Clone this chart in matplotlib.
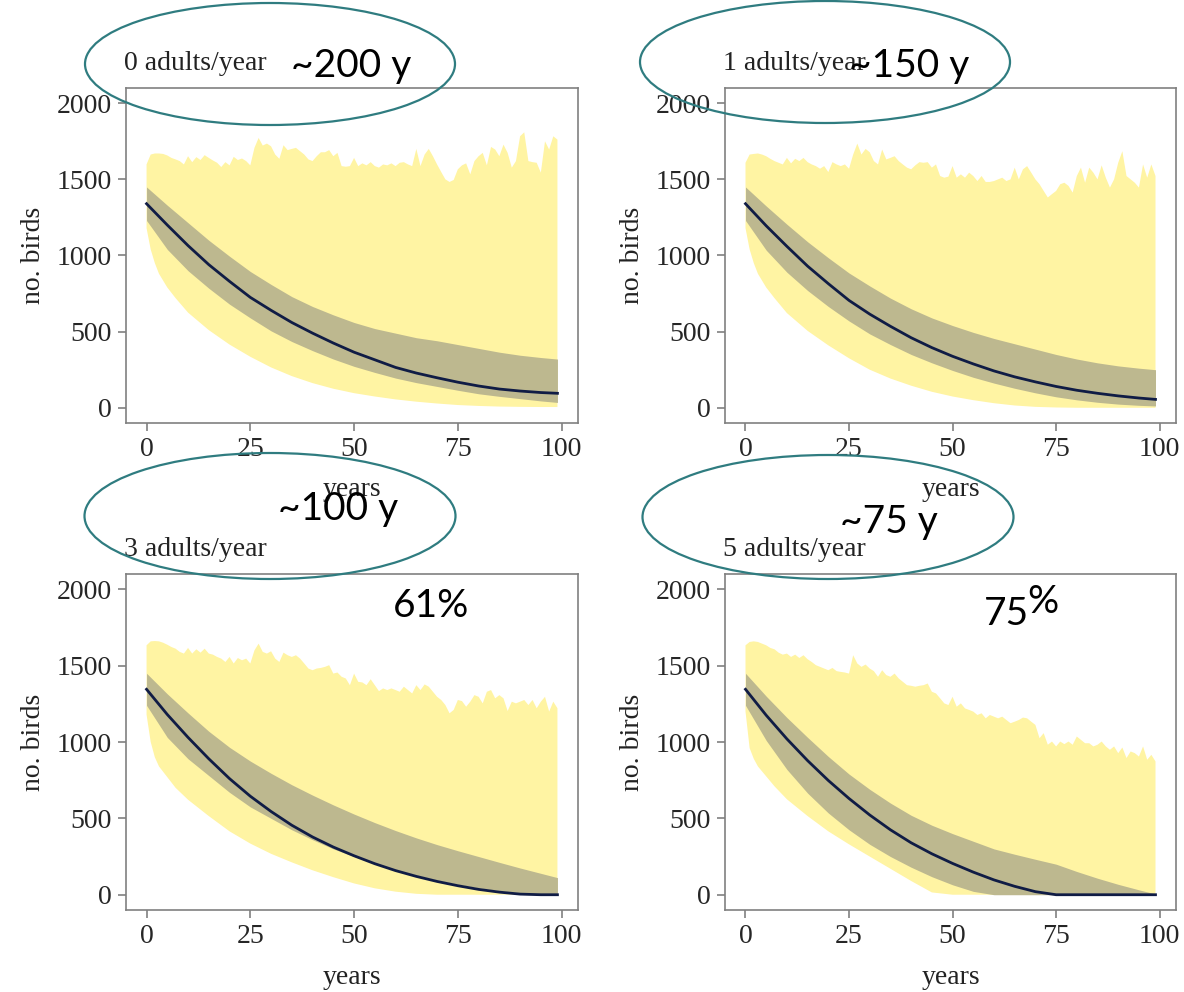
import numpy as np
import matplotlib
matplotlib.use("Agg")
import matplotlib.pyplot as plt
from matplotlib.patches import Ellipse

# ---------------- data ----------------
YEARS = list(range(100))
YEARS_MID = [0, 5, 10, 15, 20, 25, 30, 35, 40, 45, 50, 55, 60, 65, 70, 75, 80, 85, 90, 95, 99]
YEARS_LOW = [0, 1, 2, 3, 5, 7, 10, 15, 20, 25, 30, 35, 40, 45, 50, 55, 60, 65, 70, 75, 80, 85, 90, 95, 99]

TITLES = ["0 adults/year", "1 adults/year", "3 adults/year", "5 adults/year"]

# outer band, upper edge (yearly)
UP_0 = [1598,1663,1670,1670,1667,1657,1641,1631,1620,1598,
        1652,1613,1646,1627,1659,1641,1624,1609,1581,1613,
        1592,1648,1627,1637,1620,1592,1707,1772,1722,1735,
        1717,1663,1635,1724,1692,1700,1707,1685,1663,1631,
        1620,1652,1678,1678,1692,1652,1674,1587,1583,1587,
        1641,1587,1605,1592,1613,1587,1577,1598,1592,1605,
        1587,1609,1613,1598,1587,1700,1587,1663,1700,1652,
        1598,1548,1500,1483,1496,1566,1592,1605,1533,1620,
        1652,1674,1592,1713,1696,1652,1728,1674,1577,1620,
        1783,1809,1620,1613,1609,1544,1750,1696,1783,1761]
UP_1 = [1609,1663,1667,1670,1663,1652,1635,1620,1609,1598,
        1641,1605,1635,1620,1641,1613,1598,1587,1570,1587,
        1548,1613,1598,1587,1598,1570,1663,1735,1663,1700,
        1678,1620,1598,1696,1631,1641,1652,1620,1598,1577,
        1566,1592,1613,1609,1613,1577,1598,1522,1511,1518,
        1587,1511,1533,1511,1544,1522,1489,1522,1483,1483,
        1489,1500,1511,1489,1500,1577,1500,1566,1587,1544,
        1500,1468,1424,1381,1403,1424,1468,1478,1457,1413,
        1522,1577,1478,1577,1544,1500,1592,1511,1446,1500,
        1609,1685,1522,1500,1478,1446,1598,1511,1598,1522]
UP_3 = [1633,1659,1661,1659,1650,1637,1622,1611,1590,1579,
        1616,1579,1607,1585,1611,1579,1572,1557,1546,1524,
        1557,1514,1550,1535,1546,1514,1600,1644,1590,1579,
        1594,1546,1524,1585,1568,1557,1568,1546,1514,1481,
        1470,1481,1485,1492,1503,1448,1455,1427,1416,1372,
        1448,1394,1390,1372,1411,1372,1333,1351,1340,1351,
        1340,1329,1362,1340,1318,1372,1340,1377,1362,1329,
        1296,1275,1242,1188,1210,1275,1268,1231,1264,1307,
        1296,1253,1329,1340,1286,1307,1286,1203,1264,1253,
        1264,1275,1242,1275,1221,1264,1296,1199,1264,1221]
UP_5 = [1633,1655,1659,1655,1644,1633,1616,1607,1585,1572,
        1579,1557,1572,1550,1568,1542,1524,1503,1492,1481,
        1470,1485,1464,1459,1455,1448,1568,1514,1492,1507,
        1481,1464,1427,1470,1438,1427,1448,1416,1394,1372,
        1368,1362,1368,1372,1383,1329,1318,1286,1253,1242,
        1296,1231,1253,1220,1210,1199,1177,1188,1155,1177,
        1166,1155,1166,1144,1123,1133,1144,1160,1155,1133,
        1112,1025,1058,982,1003,971,1003,986,1003,982,
        1036,1014,992,992,971,982,1003,971,949,971,
        927,964,895,938,927,905,971,884,916,873]

# outer band, lower edge (on YEARS_LOW)
LO_0 = [1180,1040,950,880,790,720,625,510,415,335,265,208,162,125,96,74,55,40,28,18,12,8,6,5,5]
LO_1 = [1180,1040,950,880,790,720,622,505,410,325,250,192,145,105,74,50,30,15,6,2,0,0,0,0,0]
LO_3 = [1180,1000,900,840,770,700,622,515,415,335,268,212,160,115,74,42,20,6,0,0,0,0,0,0,0]
LO_5 = [1200,960,890,840,775,710,625,515,415,330,250,170,90,15,0,0,0,0,0,0,0,0,0,0,0]

# median (on YEARS_MID)
MED_0 = [1340,1200,1065,940,830,725,640,560,490,425,365,315,265,228,197,168,143,123,110,100,95]
MED_1 = [1340,1195,1060,930,815,705,615,535,460,395,338,288,242,203,170,140,115,95,78,64,55]
MED_3 = [1345,1180,1030,890,760,645,545,455,378,312,255,203,158,120,87,59,35,17,4,0,0]
MED_5 = [1345,1175,1020,878,748,630,522,425,340,268,205,148,97,55,20,0,0,0,0,0,0]

# inner band upper / lower (on YEARS_MID)
IHI_0 = [1450,1330,1215,1100,995,895,810,730,665,610,560,520,490,460,440,415,390,365,345,330,320]
ILO_0 = [1230,1040,900,785,680,590,505,435,375,320,272,232,195,165,140,115,92,75,60,45,35]
IHI_1 = [1450,1325,1205,1090,985,885,800,720,650,590,540,495,455,420,385,350,320,295,275,260,250]
ILO_1 = [1230,1035,890,770,665,570,485,415,350,295,245,200,162,128,98,72,52,36,24,16,12]
IHI_3 = [1450,1315,1190,1070,965,875,795,720,652,588,528,472,420,372,328,288,250,212,175,140,112]
ILO_3 = [1240,1030,890,780,670,575,500,425,360,300,250,205,165,128,95,68,45,26,12,3,0]
IHI_5 = [1450,1300,1160,1030,905,790,690,600,520,455,400,350,300,265,232,200,152,108,68,32,5]
ILO_5 = [1240,1010,820,665,535,425,330,250,180,118,65,22,0,0,0,0,0,0,0,0,0]

ANNOT = ["~200 y", "~150 y", "~100 y", "~75 y"]

Y_TICKS = [0, 500, 1000, 1500, 2000]
X_TICKS = [0, 25, 50, 75, 100]

# ---------------- style ----------------
YELLOW = "#fff4a3"
OLIVE = "#bdb88f"
NAVY = "#101c45"
TEAL = "#2f7c80"
GREY = "#808080"
SERIF = "Liberation Serif"
SANS = "Lato"

W, H = 1184, 992
fig = plt.figure(figsize=(W / 100, H / 100), dpi=100)

def fx(px):
    return px / W

def fy(py):
    return 1 - py / H

panels = [
    (TITLES[0], UP_0, LO_0, MED_0, IHI_0, ILO_0, (126, 88, 578, 423)),
    (TITLES[1], UP_1, LO_1, MED_1, IHI_1, ILO_1, (725, 88, 1176, 423)),
    (TITLES[2], UP_3, LO_3, MED_3, IHI_3, ILO_3, (126, 574, 578, 910)),
    (TITLES[3], UP_5, LO_5, MED_5, IHI_5, ILO_5, (725, 574, 1176, 910)),
]

for title, up, lo, med, ihi, ilo, (x0, y0, x1, y1) in panels:
    ax = fig.add_axes([fx(x0), fy(y1), (x1 - x0) / W, (y1 - y0) / H])
    ax.fill(np.concatenate([YEARS, YEARS_LOW[::-1]]),
            np.concatenate([up, lo[::-1]]), color=YELLOW, lw=0, zorder=1)
    ax.fill_between(YEARS_MID, ilo, ihi, color=OLIVE, lw=0, zorder=2)
    ax.plot(YEARS_MID, med, color=NAVY, lw=2.0, zorder=3)
    ax.set_xlim(-4.95, 103.95)
    ax.set_ylim(-100, 2100)
    ax.set_xticks(X_TICKS)
    ax.set_yticks(Y_TICKS)
    ax.tick_params(axis="both", colors=GREY, length=6, width=1.2, pad=4,
                   labelsize=20, labelcolor="#262626")
    for lab in ax.get_xticklabels() + ax.get_yticklabels():
        lab.set_fontfamily(SERIF)
    for sp in ax.spines.values():
        sp.set_color(GREY)
        sp.set_linewidth(1.2)
    ax.set_xlabel("years", fontsize=20, family=SERIF, color="#222222", va="center")
    ax.xaxis.set_label_coords(0.5, -0.2)
    ax.set_ylabel("no. birds", fontsize=20, family=SERIF, color="#222222", va="center")
    ax.yaxis.set_label_coords(-0.205, 0.5)
    fig.text(fx(x0 - 2), fy(y0 - 25), title, fontsize=20, family=SERIF,
             color="#222222", ha="left", va="center")

# annotations
fig.text(fx(291), fy(77), ANNOT[0], fontsize=28, family=SANS, color="black",
         ha="left", va="baseline", zorder=6)
fig.text(fx(849), fy(77), ANNOT[1], fontsize=28, family=SANS, color="black",
         ha="left", va="baseline", zorder=6)
fig.text(fx(278), fy(520), ANNOT[2], fontsize=28, family=SANS, color="black",
         ha="left", va="baseline", zorder=6)
fig.text(fx(840), fy(533), ANNOT[3], fontsize=28, family=SANS, color="black",
         ha="left", va="baseline", zorder=6)
fig.text(fx(393), fy(617), "61%", fontsize=28, family=SANS, color="black",
         ha="left", va="baseline", zorder=6)
fig.text(fx(984), fy(625), "75", fontsize=28, family=SANS, color="black",
         ha="left", va="baseline", zorder=6)
fig.text(fx(1027), fy(613), "%", fontsize=28, family=SANS, color="black",
         ha="left", va="baseline", zorder=6)

# ellipses (figure pixel centres / sizes)
for cx, cy, ew, eh in [(270, 64, 370, 122), (825, 62, 370, 122),
                       (270, 516, 371, 126), (828, 517, 371, 124)]:
    e = Ellipse((fx(cx), fy(cy)), ew / W, eh / H, transform=fig.transFigure,
                fill=False, edgecolor=TEAL, lw=1.6, zorder=7)
    fig.patches.append(e)

fig.savefig("out.png", dpi=100)
